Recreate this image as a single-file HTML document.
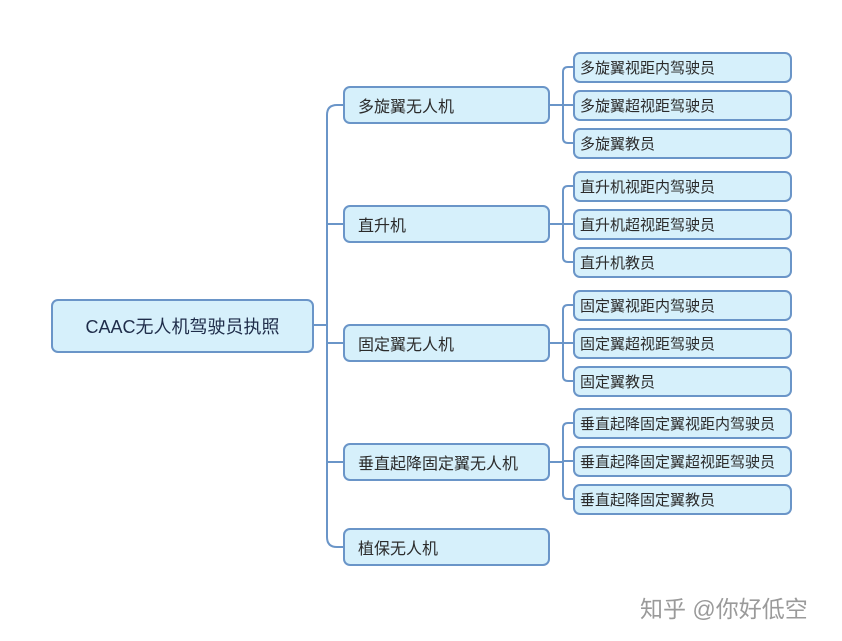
<!DOCTYPE html>
<html><head><meta charset="utf-8"><style>
body{margin:0;width:842px;height:641px;background:#fff;position:relative;overflow:hidden;font-family:"Liberation Sans","Noto Sans CJK SC",sans-serif;}
.b{position:absolute;box-sizing:border-box;background:#d6f0fb;border:2px solid #6a95c8;border-radius:7px;color:#2b2b2b;display:flex;align-items:center;}
.m{left:343px;width:207px;height:38px;font-size:16px;padding-left:13px;}
.l{left:573px;width:219px;height:31px;font-size:15px;padding-left:5px;}
svg{position:absolute;left:0;top:0}
</style></head><body>
<svg width="842" height="641" fill="none" stroke="#6a95c8" stroke-width="2">
<path d="M313 325H327"/>
<path d="M337 105Q327 105 327 115V537Q327 547 337 547H343"/>
<path d="M327 224Q327 224 337 224H343M327 343H343M327 462H343M337 105H343"/>
<path d="M550 105H563M550 224H563M550 343H563M550 462H563"/>
<path d="M573 67H568Q563 67 563 72V138Q563 143 568 143H573M563 105H573"/>
<path d="M573 186H568Q563 186 563 191V257Q563 262 568 262H573M563 224H573"/>
<path d="M573 305H568Q563 305 563 310V376Q563 381 568 381H573M563 343H573"/>
<path d="M573 423H568Q563 423 563 428V494Q563 499 568 499H573M563 461H573"/>
</svg>
<div class="b" style="left:51px;top:299px;width:263px;height:54px;font-size:18px;justify-content:center;color:#1f2d4a">CAAC无人机驾驶员执照</div>
<div class="b m" style="top:86px">多旋翼无人机</div>
<div class="b m" style="top:205px">直升机</div>
<div class="b m" style="top:324px">固定翼无人机</div>
<div class="b m" style="top:443px">垂直起降固定翼无人机</div>
<div class="b m" style="top:528px">植保无人机</div>
<div class="b l" style="top:52px">多旋翼视距内驾驶员</div>
<div class="b l" style="top:90px">多旋翼超视距驾驶员</div>
<div class="b l" style="top:128px">多旋翼教员</div>
<div class="b l" style="top:171px">直升机视距内驾驶员</div>
<div class="b l" style="top:209px">直升机超视距驾驶员</div>
<div class="b l" style="top:247px">直升机教员</div>
<div class="b l" style="top:290px">固定翼视距内驾驶员</div>
<div class="b l" style="top:328px">固定翼超视距驾驶员</div>
<div class="b l" style="top:366px">固定翼教员</div>
<div class="b l" style="top:408px">垂直起降固定翼视距内驾驶员</div>
<div class="b l" style="top:446px">垂直起降固定翼超视距驾驶员</div>
<div class="b l" style="top:484px">垂直起降固定翼教员</div>
<div style="position:absolute;left:640px;top:590px;font-size:23px;color:#9a9a9a;white-space:nowrap">知乎 @你好低空</div>
</body></html>
